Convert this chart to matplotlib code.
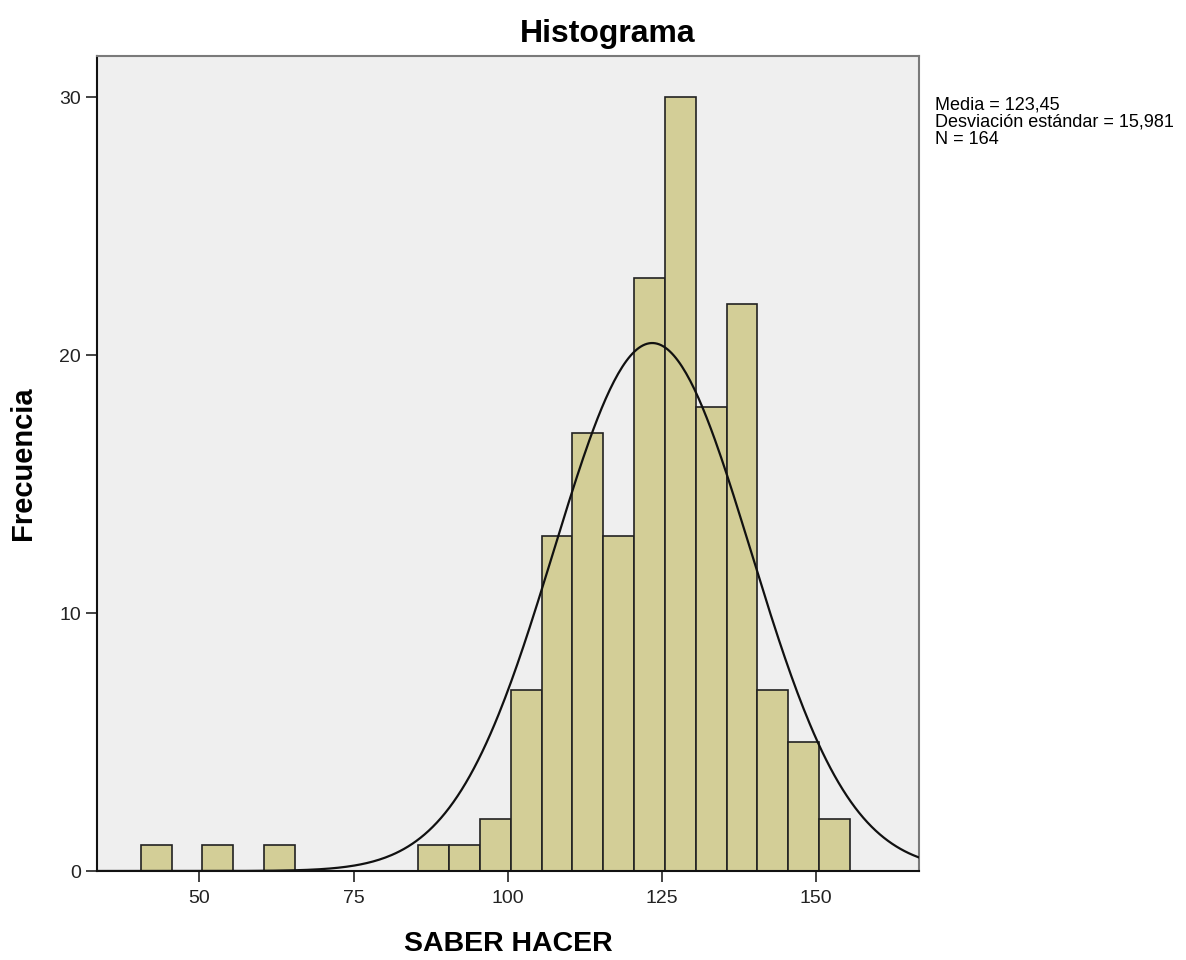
import numpy as np
import matplotlib
matplotlib.use("Agg")
import matplotlib.pyplot as plt

plt.rcParams['font.family'] = ['Liberation Sans', 'DejaVu Sans']

# bin edges (width 5) and counts
bin_lefts = [40.5, 45.5, 50.5, 55.5, 60.5, 65.5, 70.5, 75.5, 80.5, 85.5, 90.5, 95.5,
             100.5, 105.5, 110.5, 115.5, 120.5, 125.5, 130.5, 135.5, 140.5, 145.5, 150.5]
counts = [1, 0, 1, 0, 1, 0, 0, 0, 0, 1, 1, 2,
          7, 13, 17, 13, 23, 30, 18, 22, 7, 5, 2]
bin_width = 5

media = 123.45
desv = 15.981
n = 164

fig = plt.figure(figsize=(11.86, 9.6), dpi=100)
ax = fig.add_axes([0.0818, 0.0927, 0.693, 0.849])
ax.set_facecolor('#efefef')

lefts = [l for l, c in zip(bin_lefts, counts) if c > 0]
hs = [c for c in counts if c > 0]
ax.bar(lefts, hs, width=bin_width, align='edge', color='#d3ce97',
       edgecolor='#222222', linewidth=1.2, zorder=2)

# normal curve
xs = np.linspace(33.4, 166.7, 400)
ys = n * bin_width / (desv * np.sqrt(2 * np.pi)) * np.exp(-0.5 * ((xs - media) / desv) ** 2)
ax.plot(xs, ys, color='#111111', linewidth=1.6, zorder=3)

ax.set_xlim(33.4, 166.7)
ax.set_ylim(0, 31.6)
ax.set_xticks([50, 75, 100, 125, 150])
ax.set_yticks([0, 10, 20, 30])
ax.tick_params(axis='both', direction='out', length=8, width=1.2, labelsize=14,
               colors='#222222')
ax.tick_params(axis='x', pad=6)

for side in ['top', 'right']:
    ax.spines[side].set_color('#7a7a7a')
    ax.spines[side].set_linewidth(1.5)
for side in ['left', 'bottom']:
    ax.spines[side].set_color('#111111')
    ax.spines[side].set_linewidth(1.5)

fig.text(0.512, 0.965, 'Histograma', fontsize=23, fontweight='bold',
         ha='center', va='center')
ax.set_xlabel('SABER HACER', fontsize=20.5, fontweight='bold', labelpad=17)
ax.set_ylabel('Frecuencia', fontsize=21, fontweight='bold', labelpad=16)

fig.text(0.788, 0.9, 'Media = 123,45\nDesviación estándar = 15,981\nN = 164',
         fontsize=13, va='top', ha='left', linespacing=1.05)

fig.savefig('out.png', dpi=100)
